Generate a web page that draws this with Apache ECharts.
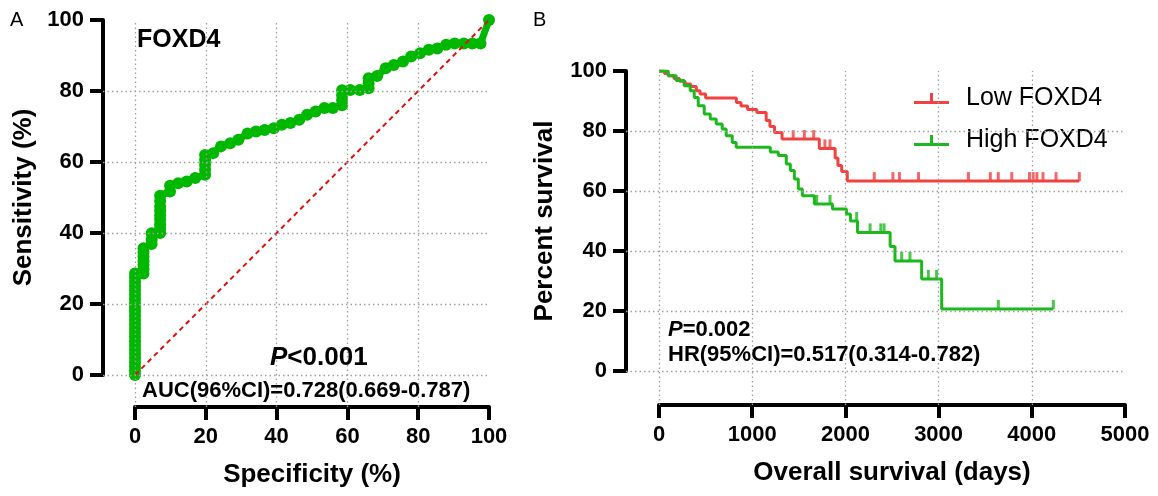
<!DOCTYPE html>
<html>
<head>
<meta charset="utf-8">
<script src="https://cdn.jsdelivr.net/npm/echarts@6/dist/echarts.min.js"></script>
<style>
  html, body { margin: 0; padding: 0; background: #fff; }
  #chart { width: 1158px; height: 496px; }
</style>
</head>
<body>
<div id="chart"></div>
<script>
// ---- data ----
// ROC curve (panel A): stacked markers on the vertical runs
const rocSpec = [0, 0, 0, 0, 0, 0, 0, 0, 0, 0, 0, 0, 0, 0, 0, 0, 0, 0, 0, 0, 0, 0, 0, 0, 0,
    2.4, 2.4, 2.4, 2.4, 2.4, 2.4, 2.4, 4.7, 4.7, 4.7, 7.1, 7.1, 7.1, 7.1, 7.1, 7.1, 7.1, 7.1, 7.1,
    9.9, 9.9, 12.2, 14.6, 17.0,
    19.8, 19.8, 19.8, 19.8, 19.8, 22.1, 24.3, 26.9, 29.2, 31.8, 34.2, 36.6, 39.2, 41.5, 43.9,
    46.4, 48.6, 51.0, 53.5, 55.9, 58.5, 58.5, 58.5, 58.5, 60.8, 63.5, 66.0, 66.0, 66.0, 68.4,
    70.8, 73.1, 75.7, 78.0, 80.5, 83.0, 85.4, 87.9, 90.3, 92.9, 95.3, 97.6, 100];
const rocSens = [0, 1.2, 2.4, 3.6, 4.8, 6.0, 7.1, 8.3, 9.5, 10.7, 11.9, 13.1, 14.3, 15.5, 16.7,
    17.9, 19.0, 20.2, 21.4, 22.6, 23.8, 25.0, 26.2, 27.4, 28.6,
    28.6, 29.8, 31.0, 32.1, 33.3, 34.5, 35.7, 36.9, 38.1, 39.9, 40.0, 41.3, 42.5, 43.8, 45.0,
    46.3, 47.5, 49.0, 50.5, 51.7, 53.3, 54.0, 54.5, 55.5,
    56.4, 57.8, 59.2, 60.6, 62.0, 62.5, 64.4, 65.3, 66.3, 68.0, 68.6, 69.0, 69.5, 70.5, 71.0,
    71.9, 73.3, 74.2, 75.2, 75.2, 76.0, 77.4, 78.8, 80.2, 80.3, 80.3, 80.8, 82.2, 83.6, 84.2,
    86.4, 87.3, 88.3, 89.7, 90.6, 91.6, 92.0, 93.0, 93.4, 93.4, 93.4, 93.4, 100];
const refX = [0, 100];
const refY = [0, 100];
const rocTicks = [0, 20, 40, 60, 80, 100];

// Kaplan-Meier (panel B)
const lowDays = [0, 60, 100, 160, 220, 280, 340, 400, 440, 500, 830, 880, 950, 1050, 1150, 1190,
    1240, 1320, 1720, 1890, 1920, 1960, 2020, 4510];
const lowSurv = [100, 99.2, 98.4, 97.5, 96.6, 95.7, 94.8, 93.4, 92.3, 91.0, 89.5, 88.3, 87.2, 86.2, 83.5,
    81.5, 79.5, 77.3, 74.2, 71.0, 68.5, 66.5, 63.3, 63.3];
const lowCensorDays = [1440, 1560, 1660, 1780, 1835, 2310, 2510, 2580, 2785, 3320, 3555, 3640,
    3785, 3975, 4015, 4055, 4120, 4260, 4510];
const lowCensorSurv = [77.3, 77.3, 77.3, 74.2, 74.2, 63.3, 63.3, 63.3, 63.3, 63.3, 63.3, 63.3,
    63.3, 63.3, 63.3, 63.3, 63.3, 63.3, 63.3];

const highDays = [0, 99, 185, 270, 335, 378, 421, 485, 550, 614, 678, 721, 786, 828, 1194, 1280,
    1366, 1409, 1452, 1495, 1538, 1667, 1861, 2011, 2054, 2130, 2480, 2532, 2818, 3033, 4231];
const highSurv = [100, 98.4, 96.8, 95.1, 93.4, 91.2, 88.4, 85.7, 84.0, 82.3, 80.7, 78.4, 76.2, 74.6, 73.0,
    71.8, 69.0, 66.8, 64.0, 60.7, 58.4, 55.7, 54.0, 52.3, 50.0, 46.2, 41.5, 36.7, 30.7, 20.7, 20.7];
const highCensorDays = [1692, 1835, 2121, 2265, 2380, 2415, 2604, 2693, 2890, 2979, 3641, 4231];
const highCensorSurv = [55.7, 55.7, 50.0, 46.2, 46.2, 46.2, 36.7, 36.7, 30.7, 30.7, 20.7, 20.7];
const kmXTicks = [0, 1000, 2000, 3000, 4000, 5000];
const kmYTicks = [0, 20, 40, 60, 80, 100];

// ---- layout ----
const FONT = 'Liberation Sans';
const A = {left: 135, top: 20, width: 354, height: 355, yOff: 32, xOff: 32};
const B = {left: 659, top: 71, width: 466, height: 300, yOff: 33, xOff: 34};
const RED = '#f24141';
const GREEN_KM = '#1db81d';
const GREEN_ROC = '#00b800';

const zip = (a, b) => a.map((v, i) => [v, b[i]]);

function mainAxis(gridIndex, ticks, offset, name, nameGap) {
    return {
        type: 'value', gridIndex: gridIndex,
        min: ticks[0], max: ticks[ticks.length - 1], interval: ticks[1] - ticks[0],
        offset: offset,
        name: name, nameLocation: 'middle', nameGap: nameGap,
        nameTextStyle: {fontFamily: FONT, fontWeight: 'bold', fontSize: 26, color: '#000'},
        axisLine: {show: true, onZero: false, lineStyle: {color: '#000', width: 4}},
        axisTick: {show: true, length: 13, lineStyle: {color: '#000', width: 4}},
        axisLabel: {
            fontFamily: FONT, fontWeight: 'bold', fontSize: 22, color: '#000', margin: 19,
            formatter: v => String(v)
        },
        splitLine: {show: false}
    };
}

// hidden axes spanning up to the offset axis lines, used to draw the dotted grid
function outerAxis(gridIndex, ticks, offset, size) {
    const span = ticks[ticks.length - 1] - ticks[0];
    return {
        type: 'value', gridIndex: gridIndex, show: false,
        min: ticks[0] - offset / size * span, max: ticks[ticks.length - 1],
        splitLine: {show: false}
    };
}

function gridLines(xIdx, yIdx, xTicks, yTicks) {
    const data = [];
    xTicks.slice(0, -1).forEach(v => data.push({xAxis: v}));
    yTicks.slice(0, -1).forEach(v => data.push({yAxis: v}));
    return {
        type: 'line', xAxisIndex: xIdx, yAxisIndex: yIdx, z: 0, silent: true,
        data: [[xTicks[0], yTicks[0]]], symbol: 'none', lineStyle: {width: 0},
        markLine: {
            silent: true, symbol: ['none', 'none'], label: {show: false},
            lineStyle: {type: [1.5, 3], color: '#a0a0a0', width: 1.3},
            emphasis: {disabled: true},
            data: data
        }
    };
}

function txt(text, left, top, size, weight, rich) {
    return {
        text: text, left: left, top: top, padding: 0,
        textStyle: {fontFamily: FONT, fontSize: size, fontWeight: weight, color: '#000', rich: rich}
    };
}

const pRich = {
    i: {fontFamily: FONT, fontStyle: 'italic', fontWeight: 'bold', fontSize: 26, color: '#000'},
    n: {fontFamily: FONT, fontWeight: 'bold', fontSize: 26, color: '#000'}
};
const pRich2 = {
    i: {fontFamily: FONT, fontStyle: 'italic', fontWeight: 'bold', fontSize: 22, color: '#000'},
    n: {fontFamily: FONT, fontWeight: 'bold', fontSize: 22, color: '#000'}
};

const iconPath = 'path://M0,8h35v3h-35z M16,0h3v8h-3z';

const chart = echarts.init(document.getElementById('chart'));
const option = {
    animation: false,
    backgroundColor: '#fff',
    title: [
        txt('A', 10, 10, 20, 'normal'),
        txt('B', 533, 10, 20, 'normal'),
        txt('FOXD4', 137, 28, 25, 'bold'),
        txt('{i|P}{n|<0.001}', 270, 345, 26, 'bold', pRich),
        txt('AUC(96%CI)=0.728(0.669-0.787)', 142, 380, 22, 'bold'),
        txt('{i|P}{n|=0.002}', 668, 319, 22, 'bold', pRich2),
        txt('HR(95%CI)=0.517(0.314-0.782)', 668, 344, 22, 'bold')
    ],
    legend: {
        orient: 'vertical', left: 909, top: 81, itemGap: 17,
        itemWidth: 35, itemHeight: 11,
        textStyle: {fontFamily: FONT, fontSize: 25, color: '#000', padding: [0, 0, 0, 12]},
        data: [
            {name: 'Low FOXD4', icon: iconPath},
            {name: 'High FOXD4', icon: iconPath}
        ]
    },
    grid: [
        {left: A.left, top: A.top, width: A.width, height: A.height},
        {left: A.left - A.yOff, top: A.top, width: A.width + A.yOff, height: A.height + A.xOff},
        {left: B.left, top: B.top, width: B.width, height: B.height},
        {left: B.left - B.yOff, top: B.top, width: B.width + B.yOff, height: B.height + B.xOff}
    ],
    xAxis: [
        mainAxis(0, rocTicks, A.xOff, 'Specificity (%)', 55),
        outerAxis(1, rocTicks, A.yOff, A.width),
        mainAxis(2, kmXTicks, B.xOff, 'Overall survival (days)', 55),
        outerAxis(3, kmXTicks, B.yOff, B.width)
    ],
    yAxis: [
        mainAxis(0, rocTicks, A.yOff, 'Sensitivity (%)', 66),
        outerAxis(1, rocTicks, A.xOff, A.height),
        mainAxis(2, kmYTicks, B.yOff, 'Percent survival', 68),
        outerAxis(3, kmYTicks, B.xOff, B.height)
    ],
    series: [
        gridLines(1, 1, rocTicks, rocTicks),
        {
            name: 'ROC', type: 'line', xAxisIndex: 0, yAxisIndex: 0, z: 3,
            data: zip(rocSpec, rocSens),
            showAllSymbol: true, symbol: 'circle', symbolSize: 12,
            itemStyle: {color: GREEN_ROC},
            lineStyle: {color: GREEN_ROC, width: 7}
        },
        {
            name: 'Reference', type: 'line', xAxisIndex: 0, yAxisIndex: 0, z: 4,
            data: zip(refX, refY), symbol: 'none',
            lineStyle: {color: '#e01010', width: 2, type: [5, 4]}
        },
        gridLines(3, 3, kmXTicks, kmYTicks),
        {
            name: 'Low FOXD4', type: 'line', step: 'end', xAxisIndex: 2, yAxisIndex: 2, z: 3,
            data: zip(lowDays, lowSurv), symbol: 'none',
            itemStyle: {color: RED}, lineStyle: {color: RED, width: 3}
        },
        {
            name: 'High FOXD4', type: 'line', step: 'end', xAxisIndex: 2, yAxisIndex: 2, z: 3,
            data: zip(highDays, highSurv), symbol: 'none',
            itemStyle: {color: GREEN_KM}, lineStyle: {color: GREEN_KM, width: 3}
        },
        {
            name: 'Low censored', type: 'scatter', xAxisIndex: 2, yAxisIndex: 2, z: 3,
            data: zip(lowCensorDays, lowCensorSurv),
            symbol: 'rect', symbolSize: [3, 9], symbolOffset: [0, '-50%'],
            itemStyle: {color: RED}
        },
        {
            name: 'High censored', type: 'scatter', xAxisIndex: 2, yAxisIndex: 2, z: 3,
            data: zip(highCensorDays, highCensorSurv),
            symbol: 'rect', symbolSize: [3, 9], symbolOffset: [0, '-50%'],
            itemStyle: {color: GREEN_KM}
        }
    ]
};
chart.setOption(option);
</script>
</body>
</html>
